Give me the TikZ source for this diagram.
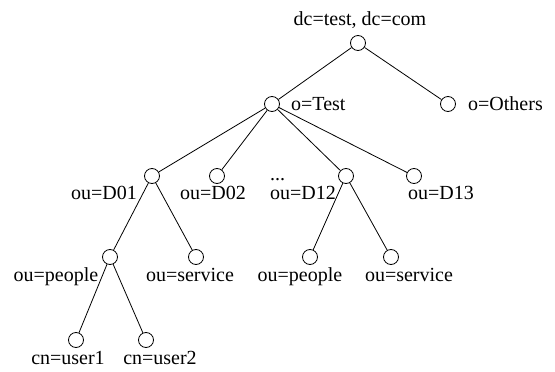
\documentclass[tikz,border=0pt]{standalone}
\usepackage{fontspec}
\setmainfont{Liberation Serif}
\begin{document}
\begin{tikzpicture}[x=1pt,y=-1pt,
  vtx/.style={circle,draw,line width=0.8pt,minimum size=15pt,inner sep=0pt},
  lbl/.style={inner sep=0pt,font=\fontsize{20}{24}\selectfont},
  edge/.style={line width=0.8pt}]
\useasboundingbox (0,0) rectangle (555,372);
% vertices
\node[vtx] (root) at (358,43) {};
\node[vtx] (otest) at (272,104) {};
\node[vtx] (oothers) at (448,104) {};
\node[vtx] (d01) at (152,176) {};
\node[vtx] (d02) at (217,176) {};
\node[vtx] (d12) at (346,176) {};
\node[vtx] (d13) at (414,176) {};
\node[vtx] (p1) at (110,257) {};
\node[vtx] (s1) at (196,257) {};
\node[vtx] (p2) at (310,257) {};
\node[vtx] (s2) at (391,257) {};
\node[vtx] (u1) at (76,340) {};
\node[vtx] (u2) at (146,340) {};
% labels
\node[lbl,anchor=base] (lroot) at (360,26) {dc=test, dc=com};
\node[lbl,anchor=base west] (lotest) at (291,110) {o=Test};
\node[lbl,anchor=base west] (loothers) at (468,110) {o=Others};
\node[lbl,anchor=base east] (ld01) at (137,199) {ou=D01};
\node[lbl,anchor=base] (ld02) at (213,199) {ou=D02};
\node[lbl,anchor=base west] (ldots) at (270,180) {...};
\node[lbl,anchor=base] (ld12) at (303,199) {ou=D12};
\node[lbl,anchor=base west] (ld13) at (408,199) {ou=D13};
\node[lbl,anchor=base] (lp1) at (56,281) {ou=people};
\node[lbl,anchor=base] (ls1) at (190,281) {ou=service};
\node[lbl,anchor=base] (lp2) at (300,281) {ou=people};
\node[lbl,anchor=base] (ls2) at (409,281) {ou=service};
\node[lbl,anchor=base] (lu1) at (68,364) {cn=user1};
\node[lbl,anchor=base] (lu2) at (160,364) {cn=user2};
% edges
\draw[edge] (root) -- (otest);
\draw[edge] (root) -- (oothers);
\draw[edge] (otest) -- (d01);
\draw[edge] (otest) -- (d02);
\draw[edge] (otest) -- (d12);
\draw[edge] (otest) -- (d13);
\draw[edge] (d01) -- (p1);
\draw[edge] (d01) -- (s1);
\draw[edge] (d12) -- (p2);
\draw[edge] (d12) -- (s2);
\draw[edge] (p1) -- (u1);
\draw[edge] (p1) -- (u2);
\end{tikzpicture}
\end{document}
